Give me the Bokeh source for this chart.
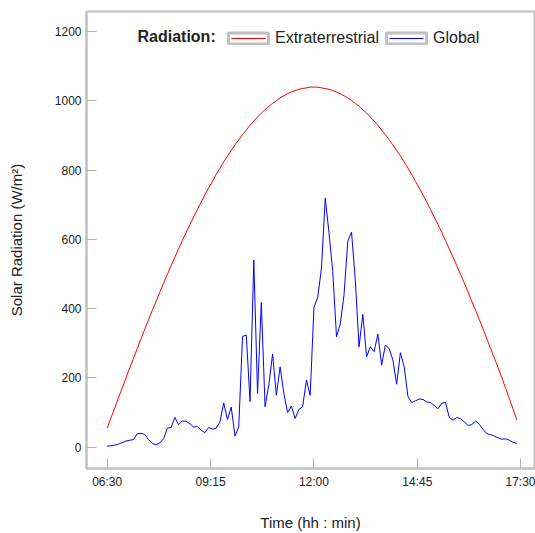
import numpy as np
from bokeh.plotting import figure
from bokeh.models import Range1d, FixedTicker, Legend, LegendItem, Label
from bokeh.embed import file_html
from bokeh.resources import INLINE

# ---- data ----
start_time = "06:30"
step_minutes = 6

extraterrestrial = [55, 84, 113, 143, 171, 200, 229, 257, 285, 313,
                    341, 368, 395, 421, 448, 474, 499, 524, 549, 573,
                    597, 620, 643, 665, 687, 708, 729, 749, 768, 788,
                    806, 824, 841, 857, 873, 888, 903, 916, 930, 942,
                    954, 965, 975, 985, 993, 1001, 1009, 1015, 1021, 1026,
                    1030, 1034, 1036, 1038, 1040, 1040, 1040, 1038, 1036, 1034,
                    1030, 1026, 1021, 1015, 1009, 1001, 993, 985, 975, 965,
                    954, 942, 930, 916, 903, 888, 873, 857, 841, 824,
                    806, 788, 768, 749, 729, 708, 687, 665, 643, 620,
                    597, 573, 549, 524, 499, 474, 448, 421, 395, 368,
                    341, 313, 285, 257, 229, 200, 170, 140, 109, 78]

global_rad = [3, 4, 6, 9, 13, 18, 20, 22, 39, 40,
              37, 22, 11, 7, 12, 24, 55, 57, 86, 65,
              76, 75, 68, 58, 60, 49, 42, 57, 52, 55,
              73, 128, 80, 116, 32, 59, 320, 324, 132, 541,
              155, 418, 117, 180, 269, 150, 232, 155, 100, 119,
              83, 109, 117, 194, 150, 404, 433, 517, 719, 620,
              508, 319, 356, 440, 595, 621, 483, 290, 384, 261,
              290, 276, 327, 237, 295, 285, 252, 182, 273, 232,
              147, 129, 134, 139, 138, 131, 129, 120, 111, 127,
              129, 86, 78, 86, 82, 73, 63, 65, 76, 66,
              51, 39, 36, 32, 27, 23, 24, 20, 14, 11]

x_tick_labels = ["06:30", "09:15", "12:00", "14:45", "17:30"]
y_ticks = [0, 200, 400, 600, 800, 1000, 1200]


def to_minutes(s):
    h, m = s.split(":")
    return int(h) * 60 + int(m)


t0 = to_minutes(start_time)
x = t0 + step_minutes * np.arange(len(global_rad))
x_ticks = [to_minutes(s) for s in x_tick_labels]

FONT = "Liberation Sans"
TEXT = "#222222"
GRAY = "#c0c0c0"

p = figure(width=535, height=533, output_backend="svg", toolbar_location=None,
           x_range=Range1d(357, 1072), y_range=Range1d(-61.5, 1258.5),
           min_border_left=86, min_border_right=1, min_border_top=11,
           min_border_bottom=65)
p.background_fill_color = "white"
p.border_fill_color = "white"
p.outline_line_color = GRAY
p.outline_line_width = 2
p.xgrid.visible = False
p.ygrid.visible = False

r_ext = p.line(x, extraterrestrial, line_color="#ff0000", line_width=1)
r_glob = p.line(x, global_rad, line_color="#0000ff", line_width=1)

# dummy renderers only used to draw boxed legend glyphs
nan = np.array([np.nan])
box = p.rect(x=nan, y=nan, width=1, height=1, fill_color="white",
             line_color=GRAY, line_width=3)
leg_red = p.line(x=np.array([np.nan, np.nan]), y=np.array([np.nan, np.nan]),
                 line_color="#ff0000", line_width=1, line_dash="0 8 34 100")
leg_blue = p.line(x=np.array([np.nan, np.nan]), y=np.array([np.nan, np.nan]),
                  line_color="#0000ff", line_width=1, line_dash="0 8 34 100")

for ax in (p.xaxis[0], p.yaxis[0]):
    ax.axis_line_color = GRAY
    ax.axis_line_width = 2
    ax.major_tick_line_color = "#b0b0b0"
    ax.major_tick_line_width = 1
    ax.major_tick_in = 10
    ax.major_tick_out = 0
    ax.minor_tick_line_color = None
    ax.major_label_text_font = FONT
    ax.major_label_text_font_size = "12px"
    ax.major_label_text_color = TEXT
    ax.axis_label_text_font = FONT
    ax.axis_label_text_font_size = "15px"
    ax.axis_label_text_font_style = "normal"
    ax.axis_label_text_color = TEXT

p.xaxis[0].ticker = FixedTicker(ticks=x_ticks)
p.xaxis[0].major_label_overrides = {t: s for t, s in zip(x_ticks, x_tick_labels)}
p.xaxis[0].major_label_standoff = 6
p.xaxis[0].axis_label = "Time (hh : min)"
p.xaxis[0].axis_label_standoff = 22

p.yaxis[0].ticker = FixedTicker(ticks=y_ticks)
p.yaxis[0].major_label_standoff = 5
p.yaxis[0].axis_label = "Solar Radiation (W/m²)"
p.yaxis[0].axis_label_standoff = 27

legend = Legend(items=[
    LegendItem(label="Extraterrestrial", renderers=[box, leg_red]),
    LegendItem(label="Global", renderers=[box, leg_blue]),
], orientation="horizontal", location=(137, 421),
    glyph_width=50, glyph_height=14, label_height=14, label_standoff=2,
    spacing=2, padding=0, margin=0,
    border_line_color=None, background_fill_alpha=0,
    label_text_font=FONT, label_text_font_size="16px", label_text_color=TEXT)
p.add_layout(legend, "center")

title_lbl = Label(x=51, y=432, x_units="screen", y_units="screen",
                  text="Radiation:", text_font=FONT, text_font_size="16px",
                  text_font_style="bold", text_color=TEXT,
                  text_baseline="middle", text_align="left")
p.add_layout(title_lbl)

open("out.html", "w").write(file_html(p, INLINE))
